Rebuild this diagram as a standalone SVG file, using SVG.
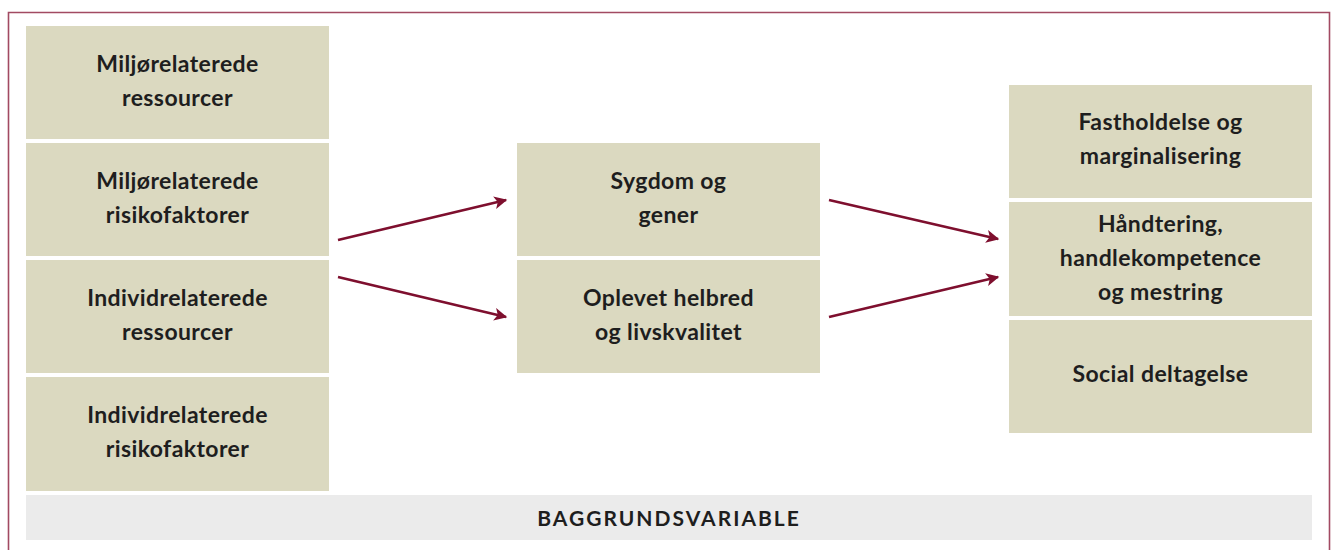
<svg xmlns="http://www.w3.org/2000/svg" width="1334" height="550" viewBox="0 0 1334 550">
<style>
.box{fill:#dbd9c0}
.t{font-family:Lato,"Open Sans","Liberation Sans",sans-serif;font-weight:bold;font-size:23px;letter-spacing:0.4px;fill:#1e1e1e;text-anchor:middle}
.c{stroke:#7e0f2e;stroke-width:2.6;fill:none}
</style>
<defs>
<marker id="ah" viewBox="0 0 10 10" refX="9" refY="5" markerWidth="7" markerHeight="5" markerUnits="strokeWidth" orient="auto">
<path d="M0,0 L10,5 L0,10 L2.5,5 z" fill="#7e0f2e"/>
</marker>
</defs>
<rect width="1334" height="550" fill="#fff"/>
<path d="M8.5,552 V12.5 H1329.5 V552" fill="none" stroke="#a24a62" stroke-width="1.6"/>
<g id="n1"><rect class="box" x="26" y="26" width="303" height="113"/><text class="t" x="177.5" y="72">Miljørelaterede</text><text class="t" x="177.5" y="106">ressourcer</text></g>
<g id="n2"><rect class="box" x="26" y="143" width="303" height="113"/><text class="t" x="177.5" y="189">Miljørelaterede</text><text class="t" x="177.5" y="223">risikofaktorer</text></g>
<g id="n3"><rect class="box" x="26" y="260" width="303" height="113"/><text class="t" x="177.5" y="306">Individrelaterede</text><text class="t" x="177.5" y="340">ressourcer</text></g>
<g id="n4"><rect class="box" x="26" y="377" width="303" height="114"/><text class="t" x="177.5" y="423">Individrelaterede</text><text class="t" x="177.5" y="457">risikofaktorer</text></g>
<g id="m1"><rect class="box" x="517" y="143" width="303" height="113"/><text class="t" x="668.5" y="189">Sygdom og</text><text class="t" x="668.5" y="223">gener</text></g>
<g id="m2"><rect class="box" x="517" y="260" width="303" height="113"/><text class="t" x="668.5" y="306">Oplevet helbred</text><text class="t" x="668.5" y="340">og livskvalitet</text></g>
<g id="r1"><rect class="box" x="1009" y="85" width="303" height="113"/><text class="t" x="1160.5" y="130">Fastholdelse og</text><text class="t" x="1160.5" y="164">marginalisering</text></g>
<g id="r2"><rect class="box" x="1009" y="202" width="303" height="114"/><text class="t" x="1160.5" y="232">Håndtering,</text><text class="t" x="1160.5" y="266">handlekompetence</text><text class="t" x="1160.5" y="300">og mestring</text></g>
<g id="r3"><rect class="box" x="1009" y="320" width="303" height="113"/><text class="t" x="1160.5" y="382">Social deltagelse</text></g>
<g id="bg"><rect x="26" y="495" width="1286" height="45" fill="#ebebeb"/><text class="t" x="669" y="526" style="font-size:21px;letter-spacing:2px">BAGGRUNDSVARIABLE</text></g>
<g id="connectors">
<line class="c" x1="338" y1="240" x2="506" y2="200" marker-end="url(#ah)"/>
<line class="c" x1="338" y1="277" x2="506" y2="317" marker-end="url(#ah)"/>
<line class="c" x1="829" y1="200" x2="998" y2="239" marker-end="url(#ah)"/>
<line class="c" x1="829" y1="317" x2="998" y2="277" marker-end="url(#ah)"/>
</g>
</svg>
